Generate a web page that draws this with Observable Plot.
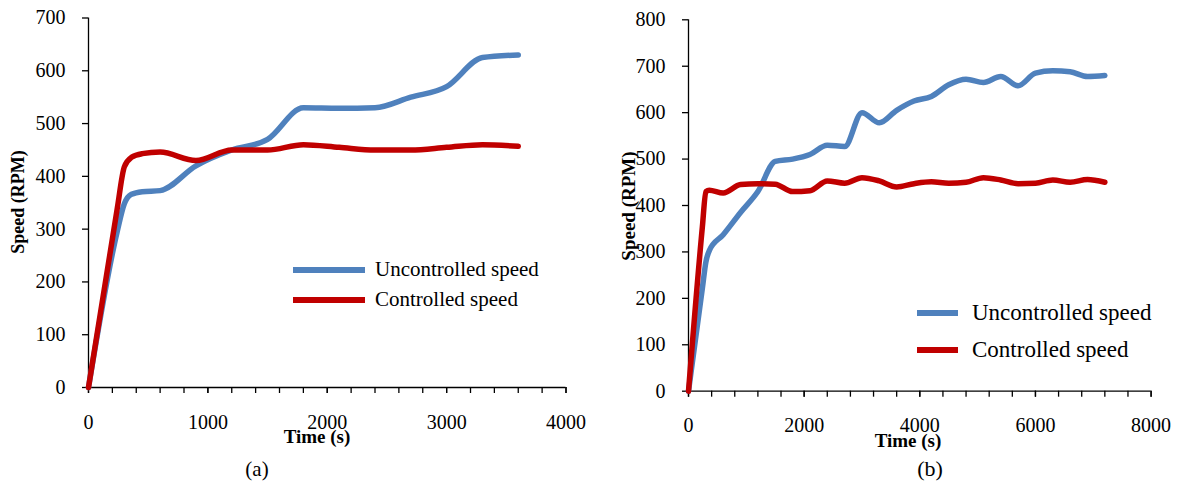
<!DOCTYPE html>
<html>
<head>
<meta charset="utf-8">
<script src="https://cdn.jsdelivr.net/npm/d3@7"></script>
<script src="https://cdn.jsdelivr.net/npm/@observablehq/plot@0.6"></script>
<style>
  html, body { margin: 0; padding: 0; background: #fff; }
  #wrap { position: relative; width: 1177px; height: 484px; overflow: hidden; background: #fff; }
  #wrap > svg, #wrap > figure { position: absolute; top: 0; margin: 0; }
</style>
</head>
<body>
<div id="wrap"></div>
<script>
// ---------- Data: panel (a) ----------
const timeA = [0, 240, 300, 360, 450, 600, 900, 1200, 1500, 1800, 2100, 2400, 2700, 3000, 3300, 3600];
const uncontrolledA = [0, 295, 348, 366, 371, 373, 420, 450, 470, 530, 529, 530, 550, 570, 625, 630];
const controlledA   = [0, 338, 418, 436, 443, 446, 430, 450, 450, 460, 455, 450, 450, 455, 460, 457];
const xTicksA = [0, 1000, 2000, 3000, 4000];
const xMinorA = [0, 200, 400, 600, 800, 1000, 1200, 1400, 1600, 1800, 2000, 2200, 2400, 2600, 2800, 3000, 3200, 3400, 3600, 3800, 4000];
const yTicksA = [0, 100, 200, 300, 400, 500, 600, 700];

// ---------- Data: panel (b) ----------
const timeB = [0, 240, 300, 360, 600, 900, 1200, 1500, 1800, 2100, 2400, 2700, 3000, 3300, 3600, 3900, 4200, 4500, 4800, 5100, 5400, 5700, 6000, 6300, 6600, 6900, 7200];
const uncontrolledB = [0, 222, 278, 303, 337, 385, 430, 495, 500, 510, 530, 527, 600, 578, 605, 625, 635, 660, 672, 665, 678, 658, 685, 690, 688, 678, 680];
const controlledB   = [0, 354, 430, 433, 427, 445, 447, 446, 430, 432, 453, 448, 460, 453, 440, 447, 451, 448, 450, 460, 455, 447, 448, 455, 450, 456, 450];
const xTicksB = [0, 2000, 4000, 6000, 8000];
const xMinorB = [0, 400, 800, 1200, 1600, 2000, 2400, 2800, 3200, 3600, 4000, 4400, 4800, 5200, 5600, 6000, 6400, 6800, 7200, 7600, 8000];
const yTicksB = [0, 100, 200, 300, 400, 500, 600, 700, 800];

const seriesNames = ["Uncontrolled speed", "Controlled speed"];
const seriesColors = ["#4F81BD", "#C00000"];
const yLabel = "Speed (RPM)";
const xLabel = "Time (s)";
const panelLabels = ["(a)", "(b)"];

const FONT = '"Liberation Serif", "Times New Roman", "DejaVu Serif", serif';

function rows(t, v) { return t.map((d, i) => ({t: d, v: v[i]})); }

function panel({width, height, mL, mT, mR, mB, xDomain, yDomain, xTicks, xMinor, yTicks, unc, con, t}) {
  return Plot.plot({
    width, height,
    marginLeft: mL, marginTop: mT, marginRight: mR, marginBottom: mB,
    x: {domain: xDomain},
    y: {domain: yDomain},
    style: {fontFamily: FONT, fontSize: "20px", color: "#000", background: "transparent", overflow: "visible"},
    marks: [
      Plot.axisY({ticks: yTicks, tickSize: 6, tickPadding: 17, label: null, tickFormat: d => String(d), strokeWidth: 1.3, fontSize: 20, fontFamily: FONT}),
      Plot.axisX({ticks: xMinor, tickSize: 6, tickFormat: () => "", label: null, strokeWidth: 1.3}),
      Plot.axisX({ticks: xTicks, tickSize: 6, tickPadding: 21, label: null, tickFormat: d => String(d), strokeWidth: 1.3, fontSize: 20, fontFamily: FONT}),
      Plot.ruleY([yDomain[0]], {stroke: "#000", strokeWidth: 1.3}),
      Plot.ruleX([xDomain[0]], {stroke: "#000", strokeWidth: 1.3}),
      Plot.line(rows(t, unc), {x: "t", y: "v", stroke: seriesColors[0], strokeWidth: 5.5, curve: "monotone-x"}),
      Plot.line(rows(t, con), {x: "t", y: "v", stroke: seriesColors[1], strokeWidth: 5.5, curve: "monotone-x"})
    ]
  });
}

const wrap = document.getElementById("wrap");

const pA = panel({width: 590, height: 484, mL: 88, mT: 17.5, mR: 24.5, mB: 97,
  xDomain: [0, 4000], yDomain: [0, 700], xTicks: xTicksA, xMinor: xMinorA, yTicks: yTicksA,
  unc: uncontrolledA, con: controlledA, t: timeA});
pA.style.left = "0px";
wrap.appendChild(pA);

const pB = panel({width: 587, height: 484, mL: 98, mT: 19.3, mR: 26.4, mB: 93.3,
  xDomain: [0, 8000], yDomain: [0, 800], xTicks: xTicksB, xMinor: xMinorB, yTicks: yTicksB,
  unc: uncontrolledB, con: controlledB, t: timeB});
pB.style.left = "590px";
wrap.appendChild(pB);

// ---------- Overlay: axis titles, legends, panel labels ----------
const ov = d3.create("svg").attr("width", 1177).attr("height", 484)
  .style("left", "0px").style("position", "absolute").style("top", "0px")
  .attr("font-family", FONT);

function addText(x, y, txt, size, opts = {}) {
  const t = ov.append("text").attr("x", x).attr("y", y).attr("font-size", size)
    .attr("fill", "#000").attr("dominant-baseline", "central")
    .attr("text-anchor", opts.anchor || "middle").text(txt);
  if (opts.bold) t.attr("font-weight", "bold");
  if (opts.rotate) t.attr("transform", `rotate(-90 ${x} ${y})`);
  return t;
}

// y-axis titles
addText(18, 202, yLabel, 18, {bold: true, rotate: true});
addText(628, 206, yLabel, 19, {bold: true, rotate: true});
// x-axis titles
addText(317, 436, xLabel, 19, {bold: true});
addText(908, 440, xLabel, 19, {bold: true});
// panel labels
addText(257, 469, panelLabels[0], 21);
addText(930, 468, panelLabels[1], 22);

// legends
const legends = [
  {x1: 293, x2: 365, tx: 375, ys: [270, 300], size: 21},
  {x1: 917, x2: 958, tx: 972, ys: [313, 350], size: 23}
];
legends.forEach(L => {
  seriesNames.forEach((name, i) => {
    ov.append("line").attr("x1", L.x1).attr("x2", L.x2).attr("y1", L.ys[i]).attr("y2", L.ys[i])
      .attr("stroke", seriesColors[i]).attr("stroke-width", 6);
    addText(L.tx, L.ys[i] - 1, name, L.size, {anchor: "start"});
  });
});

wrap.appendChild(ov.node());
</script>
</body>
</html>
